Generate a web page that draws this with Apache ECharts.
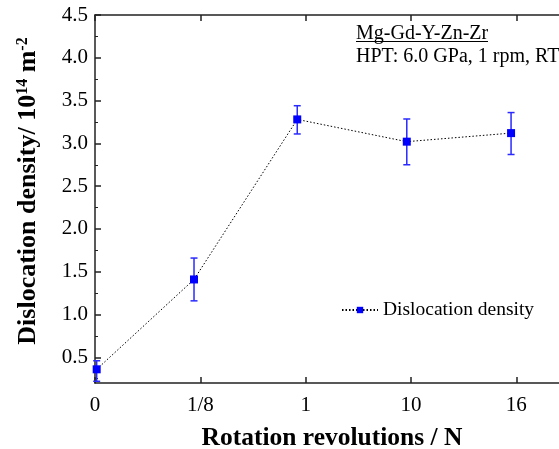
<!DOCTYPE html>
<html>
<head>
<meta charset="utf-8">
<script src="https://cdn.jsdelivr.net/npm/echarts@6/dist/echarts.min.js"></script>
<style>
  html, body { margin: 0; padding: 0; background: #fff; }
  #chart { width: 559px; height: 449px; }
</style>
</head>
<body>
<div id="chart"></div>
<script>
// tick labels for the evenly spaced x positions 0..4
const xLabels = ['0', '1/8', '1', '10', '16']
const xTicks = [0, 1, 2, 3, 4]
const yTicks = [0.5, 1.0, 1.5, 2.0, 2.5, 3.0, 3.5, 4.0, 4.5]
const yMinorTicks = [0.25, 0.75, 1.25, 1.75, 2.25, 2.75, 3.25, 3.75, 4.25]

// measured points (x in axis units, density in 10^14 m^-2)
const xPos = [0.016, 0.94, 1.92, 2.96, 3.95]
const density = [0.36, 1.41, 3.28, 3.02, 3.12]
const errLow = [0.22, 1.16, 3.11, 2.75, 2.87]
const errHigh = [0.46, 1.66, 3.44, 3.285, 3.36]

const serif = 'Liberation Serif'
const chart = echarts.init(document.getElementById('chart'))

const lineData = xPos.map((x, i) => [x, density[i]])
const errData = xPos.map((x, i) => [x, errLow[i], errHigh[i]])

const renderErr = (params, api) => {
  const lo = api.coord([api.value(0), api.value(1)])
  const hi = api.coord([api.value(0), api.value(2)])
  const w = 3.5
  const style = { stroke: '#2a2aff', lineWidth: 1.5 }
  return {
    type: 'group',
    children: [
      { type: 'line', shape: { x1: lo[0], y1: lo[1], x2: hi[0], y2: hi[1] }, style },
      { type: 'line', shape: { x1: lo[0] - w, y1: lo[1], x2: lo[0] + w, y2: lo[1] }, style },
      { type: 'line', shape: { x1: hi[0] - w, y1: hi[1], x2: hi[0] + w, y2: hi[1] }, style }
    ]
  }
}

const axisLine = { show: true, lineStyle: { color: '#222', width: 1.5 } }

chart.setOption({
  animation: false,
  grid: { left: 95, top: 15, width: 474, height: 368, outerBoundsMode: 'none', containLabel: false },
  legend: {
    data: ['Dislocation density'],
    left: 336,
    top: 295,
    itemWidth: 36,
    itemHeight: 8,
    itemGap: 3,
    textStyle: { fontFamily: serif, fontSize: 19.5, color: '#000' }
  },
  xAxis: [
    {
      type: 'value',
      min: 0,
      max: 4.5,
      axisLine,
      splitLine: { show: false },
      axisTick: { show: true, inside: true, length: 6, customValues: xTicks, lineStyle: { color: '#222', width: 1.5 } },
      axisLabel: {
        customValues: xTicks,
        margin: 12,
        fontFamily: serif,
        fontSize: 21,
        color: '#000',
        formatter: (v) => xLabels[Math.round(v)]
      },
      name: 'Rotation revolutions / N',
      nameLocation: 'middle',
      nameGap: 42,
      nameTextStyle: { fontFamily: serif, fontSize: 25.5, fontWeight: 'bold', color: '#000' }
    },
    {
      type: 'value',
      position: 'top',
      min: 0,
      max: 4.5,
      axisLine,
      splitLine: { show: false },
      axisTick: { show: true, inside: true, length: 6, customValues: xTicks, lineStyle: { color: '#222', width: 1.5 } },
      axisLabel: { show: false }
    }
  ],
  yAxis: [
    {
      type: 'value',
      min: 0.2,
      max: 4.5,
      axisLine,
      splitLine: { show: false },
      axisTick: { show: true, inside: true, length: 6, customValues: yTicks, lineStyle: { color: '#222', width: 1.5 } },
      axisLabel: {
        customValues: yTicks,
        margin: 7,
        fontFamily: serif,
        fontSize: 21,
        color: '#000',
        formatter: (v) => v.toFixed(1)
      }
    },
    {
      type: 'value',
      position: 'left',
      min: 0.2,
      max: 4.5,
      axisLine: { show: false },
      splitLine: { show: false },
      axisTick: { show: true, inside: true, length: 3, customValues: yMinorTicks, lineStyle: { color: '#222', width: 1 } },
      axisLabel: { show: false }
    }
  ],
  graphic: [
    {
      type: 'text',
      x: 28,
      y: 191,
      rotation: Math.PI / 2,
      style: {
        text: '{t|Dislocation density/ 10}{s|14}{t| m}{s|-2}',
        align: 'center',
        verticalAlign: 'middle',
        rich: {
          t: { fontFamily: serif, fontSize: 26, fontWeight: 'bold', fill: '#000' },
          s: { fontFamily: serif, fontSize: 16, fontWeight: 'bold', fill: '#000', verticalAlign: 'top', padding: [0, 0, 11, 0] }
        }
      }
    },
    {
      type: 'text',
      left: 356,
      top: 24,
      style: { text: 'Mg-Gd-Y-Zn-Zr', font: '20px "Liberation Serif"', fill: '#000' }
    },
    {
      type: 'line',
      shape: { x1: 356, y1: 41.5, x2: 488, y2: 41.5 },
      style: { stroke: '#000', lineWidth: 1 }
    },
    {
      type: 'text',
      left: 356,
      top: 47,
      style: { text: 'HPT: 6.0 GPa, 1 rpm, RT', font: '20px "Liberation Serif"', fill: '#000' }
    }
  ],
  series: [
    {
      type: 'custom',
      name: 'err',
      renderItem: renderErr,
      data: errData,
      z: 2
    },
    {
      name: 'Dislocation density',
      type: 'line',
      data: lineData,
      symbol: 'rect',
      symbolSize: 8,
      itemStyle: { color: '#0000ff' },
      lineStyle: { color: '#000', width: 1, type: [1.5, 2] },
      z: 3
    }
  ]
})
</script>
</body>
</html>
